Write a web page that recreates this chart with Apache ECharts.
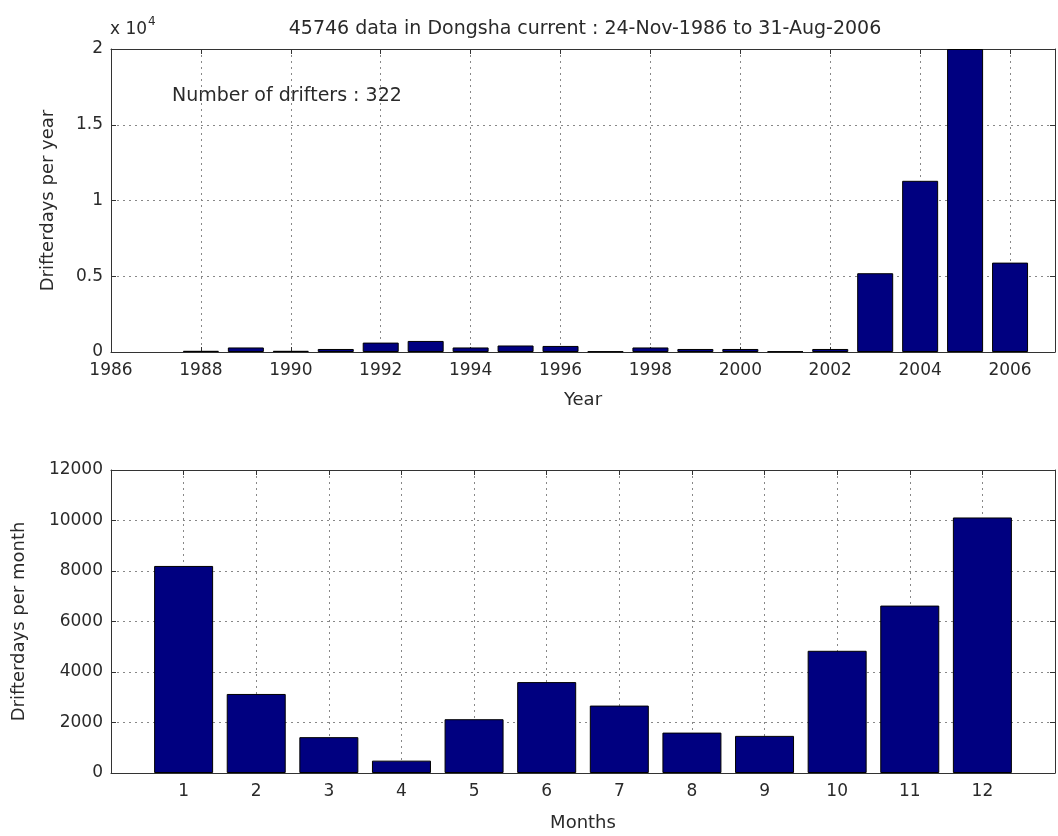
<!DOCTYPE html>
<html>
<head>
<meta charset="utf-8">
<script src="https://cdn.jsdelivr.net/npm/echarts@6/dist/echarts.min.js"></script>
<style>
html,body{margin:0;padding:0;background:#fff;}
#chart{width:1058px;height:836px;}
</style>
</head>
<body>
<div id="chart"></div>
<script>
// ---- data ----
const years = [1988,1989,1990,1991,1992,1993,1994,1995,1996,1997,1998,1999,2000,2001,2002,2003,2004,2005,2006];
const driftDaysPerYear = [80,300,80,200,620,730,300,430,400,40,300,200,200,40,200,5200,11300,20000,5900];
const months = [1,2,3,4,5,6,7,8,9,10,11,12];
const driftDaysPerMonth = [8200,3130,1420,490,2130,3600,2670,1600,1470,4840,6630,10120];
const yearTicks = [1986,1988,1990,1992,1994,1996,1998,2000,2002,2004,2006];
const titleText = '45746 data in Dongsha current : 24-Nov-1986 to 31-Aug-2006';
const noteText = 'Number of drifters : 322';

const FONT = 'DejaVu Sans';
const TXT = '#2a2a2a';
const gridLine = {show:true, lineStyle:{color:'#888', type:[2,4], width:1}};
const axLine = {show:true, onZero:false, lineStyle:{color:'#333', width:1}};
const tickIn = {show:true, inside:true, length:5, lineStyle:{color:'#333'}};
const lbl = (extra) => Object.assign({color:TXT, fontFamily:FONT, fontSize:17}, extra||{});
const nameStyle = {fontFamily:FONT, fontSize:18, color:TXT};

const chart = echarts.init(document.getElementById('chart'), null, {renderer:'canvas'});
const option = {
  animation:false,
  backgroundColor:'#fff',
  title:{
    text:titleText, left:580, top:15, textAlign:'center',
    textStyle:{fontFamily:FONT, fontSize:19, fontWeight:'normal', color:TXT}
  },
  grid:[
    {left:111, top:49, width:944, height:303, containLabel:false},
    {left:111, top:470, width:944, height:303, containLabel:false}
  ],
  xAxis:[
    {gridIndex:0, type:'value', position:'bottom', min:1986, max:2007, interval:2,
     axisLine:axLine, axisTick:tickIn, splitLine:gridLine,
     axisLabel:lbl({margin:10, showMaxLabel:false, showMinLabel:true,
       formatter:(v)=> yearTicks.indexOf(v)>=0 ? String(v) : ''}),
     name:'Year', nameLocation:'middle', nameGap:39, nameTextStyle:nameStyle},
    {gridIndex:0, type:'value', position:'top', min:1986, max:2007, interval:2,
     axisLine:axLine, axisTick:tickIn, splitLine:{show:false}, axisLabel:{show:false}},
    {gridIndex:1, type:'value', position:'bottom', min:0, max:13, interval:1,
     axisLine:axLine, axisTick:tickIn, splitLine:gridLine,
     axisLabel:lbl({margin:10, showMaxLabel:false, showMinLabel:false,
       formatter:(v)=> months.indexOf(v)>=0 ? String(v) : ''}),
     name:'Months', nameLocation:'middle', nameGap:41, nameTextStyle:nameStyle},
    {gridIndex:1, type:'value', position:'top', min:0, max:13, interval:1,
     axisLine:axLine, axisTick:tickIn, splitLine:{show:false}, axisLabel:{show:false}}
  ],
  yAxis:[
    {gridIndex:0, type:'value', position:'left', min:0, max:20000, interval:5000,
     axisLine:axLine, axisTick:tickIn, splitLine:gridLine,
     axisLabel:lbl({margin:8, formatter:(v)=> String(v/10000)}),
     name:'Drifterdays per year', nameLocation:'middle', nameGap:54, nameTextStyle:nameStyle},
    {gridIndex:0, type:'value', position:'right', min:0, max:20000, interval:5000,
     axisLine:axLine, axisTick:tickIn, splitLine:{show:false}, axisLabel:{show:false}},
    {gridIndex:1, type:'value', position:'left', min:0, max:12000, interval:2000,
     axisLine:axLine, axisTick:tickIn, splitLine:gridLine,
     axisLabel:lbl({margin:8, formatter:(v)=> String(v)}),
     name:'Drifterdays per month', nameLocation:'middle', nameGap:83, nameTextStyle:nameStyle},
    {gridIndex:1, type:'value', position:'right', min:0, max:12000, interval:2000,
     axisLine:axLine, axisTick:tickIn, splitLine:{show:false}, axisLabel:{show:false}}
  ],
  graphic:[
    {type:'text', left:110, top:16, style:{
      text:'{a|x 10}{b|4}', fill:TXT,
      rich:{a:{fontFamily:FONT, fontSize:17, fill:TXT, verticalAlign:'bottom', lineHeight:22},
            b:{fontFamily:FONT, fontSize:12, fill:TXT, verticalAlign:'top', lineHeight:22, padding:[0,0,12,1]}}
    }},
    {type:'text', left:172, top:87, style:{
      text:noteText, fill:TXT, font:'19px "DejaVu Sans"'
    }}
  ],
  series:[
    {type:'bar', xAxisIndex:0, yAxisIndex:0, barWidth:36,
     data: years.map((y,i)=>[y, driftDaysPerYear[i]]),
     itemStyle:{color:'#000080', borderColor:'#000', borderWidth:1}},
    {type:'bar', xAxisIndex:2, yAxisIndex:2, barWidth:59,
     data: months.map((m,i)=>[m, driftDaysPerMonth[i]]),
     itemStyle:{color:'#000080', borderColor:'#000', borderWidth:1}}
  ]
};
chart.setOption(option);
</script>
</body>
</html>
